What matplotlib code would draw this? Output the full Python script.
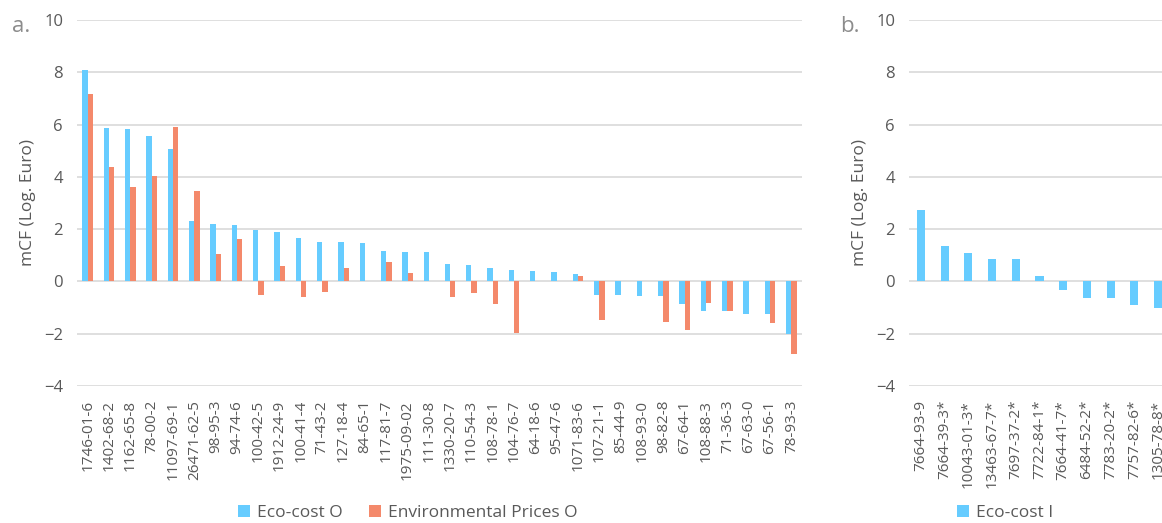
import matplotlib.pyplot as plt
import numpy as np

# Datos panel a: eco-cost y precios ambientales (log euro)
cas_o = ['1746-01-6', '1402-68-2', '1162-65-8', '78-00-2', '11097-69-1', '26471-62-5',
         '98-95-3', '94-74-6', '100-42-5', '1912-24-9', '100-41-4', '71-43-2',
         '127-18-4', '84-65-1', '117-81-7', '1975-09-02', '111-30-8', '1330-20-7',
         '110-54-3', '108-78-1', '104-76-7', '64-18-6', '95-47-6', '1071-83-6',
         '107-21-1', '85-44-9', '108-93-0', '98-82-8', '67-64-1', '108-88-3',
         '71-36-3', '67-63-0', '67-56-1', '78-93-3']
eco_cost_o = [8.10, 5.88, 5.84, 5.58, 5.07, 2.33, 2.18, 2.15, 1.97, 1.89, 1.65, 1.51,
              1.50, 1.47, 1.17, 1.14, 1.14, 0.68, 0.64, 0.53, 0.42, 0.40, 0.37, 0.28,
              -0.52, -0.53, -0.57, -0.57, -0.88, -1.15, -1.15, -1.23, -1.23, -2.00]
env_prices_o = [7.18, 4.37, 3.60, 4.03, 5.90, 3.47, 1.06, 1.63, -0.50, 0.59, -0.60, -0.40,
                0.51, np.nan, 0.74, 0.32, np.nan, -0.59, -0.45, -0.86, -1.96, np.nan, np.nan, 0.19,
                -1.48, np.nan, np.nan, -1.55, -1.86, -0.84, -1.15, np.nan, -1.60, -2.77]

# Datos panel b: eco-cost inorgánicos
cas_i = ['7664-93-9', '7664-39-3*', '10043-01-3*', '13463-67-7*', '7697-37-2*',
         '7722-84-1*', '7664-41-7*', '6484-52-2*', '7783-20-2*', '7757-82-6*', '1305-78-8*']
eco_cost_i = [2.72, 1.35, 1.08, 0.87, 0.85, 0.19, -0.32, -0.63, -0.63, -0.92, -1.00]

azul = '#66CCFF'
naranja = '#F4896B'
gris = '#595959'
plt.rcParams['font.family'] = ['Open Sans', 'DejaVu Sans']

fig = plt.figure(figsize=(11.62, 5.23), dpi=100)
ax1 = fig.add_axes([77 / 1162, 137 / 523, 725 / 1162, 366 / 523])
# el panel b sobresale del borde derecho, como en el original
ax2 = fig.add_axes([909 / 1162, 137 / 523, 261 / 1162, 366 / 523])


def estilo(ax):
    ax.set_ylim(-4, 10)
    ax.set_yticks(range(-4, 11, 2))
    ax.grid(axis='y', color='#d9d9d9', linewidth=1.2)
    ax.set_axisbelow(True)
    for s in ax.spines.values():
        s.set_visible(False)
    ax.tick_params(length=0, colors=gris, labelsize=11)
    ax.tick_params(axis='y', pad=10, labelsize=12)
    ax.tick_params(axis='x', pad=10)
    ax.set_ylabel('mCF (Log. Euro)', color=gris, fontsize=12.5, labelpad=6)


# Panel a
x = np.arange(len(cas_o))
w = 0.25
ax1.bar(x - w / 2, eco_cost_o, w, color=azul, label='Eco-cost O')
ax1.bar(x + w / 2, env_prices_o, w, color=naranja, label='Environmental Prices O')
ax1.set_xticks(x)
ax1.set_xticklabels(cas_o, rotation=90)
ax1.set_xlim(-0.5, len(cas_o) - 0.5)
estilo(ax1)
ax1.legend(loc='center', bbox_to_anchor=(408 / 1162, 10 / 523), bbox_transform=fig.transFigure,
           ncol=2, frameon=False, fontsize=12.5, labelcolor=gris, handlelength=0.7,
           handleheight=0.7, handletextpad=0.4, columnspacing=1.5)

# Panel b
xi = np.arange(len(cas_i))
ax2.bar(xi, eco_cost_i, 0.34, color=azul, label='Eco-cost I')
ax2.set_xticks(xi)
ax2.set_xticklabels(cas_i, rotation=90)
ax2.set_xlim(-0.5, len(cas_i) - 0.5)
estilo(ax2)
ax2.legend(loc='center', bbox_to_anchor=(1005 / 1162, 10 / 523), bbox_transform=fig.transFigure,
           frameon=False, fontsize=12.5, labelcolor=gris, handlelength=0.7,
           handleheight=0.7, handletextpad=0.4)

fig.text(12 / 1162, 1 - 27 / 523, 'a.', fontsize=16, color='#8c8c8c', va='center')
fig.text(840 / 1162, 1 - 27 / 523, 'b.', fontsize=16, color='#8c8c8c', va='center')

plt.savefig('out.png', dpi=100)
plt.close()
